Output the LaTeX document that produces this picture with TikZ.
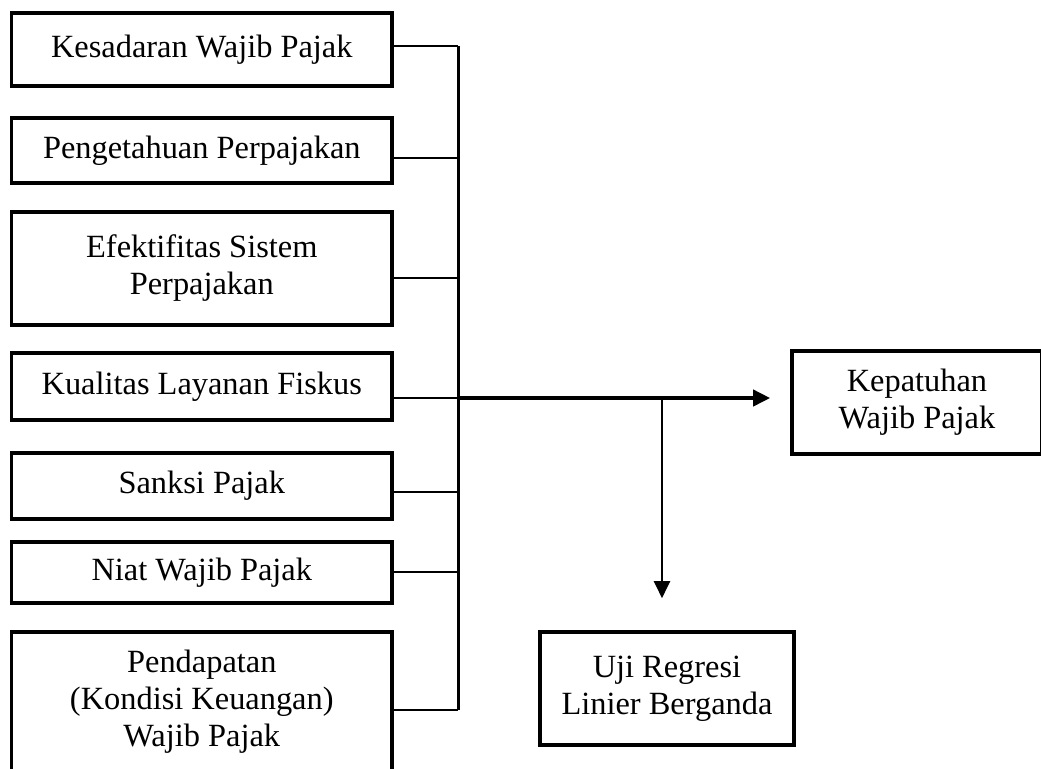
\documentclass[tikz,border=0pt]{standalone}
\usepackage{fontspec}
\setmainfont{Liberation Serif}
\usetikzlibrary{arrows.meta,positioning,calc}

\begin{document}
\begin{tikzpicture}[x=0.5pt,y=-0.5pt,
  kotak/.style={draw,line width=1.8pt,align=center,inner sep=0pt,font=\fontsize{16.2}{18.5}\selectfont},
  kiri/.style={kotak,minimum width=190.2pt},
  garis/.style={line width=0.65pt},
  bus/.style={line width=1.5pt},
  panah/.style={line width=1.9pt,-{Triangle[length=8.5pt,width=8pt]}}]
\useasboundingbox (0,0) rectangle (1041,768);
\clip (0,0) rectangle (1041,768);
\node[kiri,minimum height=36.5pt] (kesadaran) at (201.8,49.5) {Kesadaran Wajib Pajak};
\node[kiri,minimum height=32.5pt] (pengetahuan) at (201.8,150.5) {Pengetahuan Perpajakan};
\node[kiri,minimum height=56.5pt] (efektifitas) at (201.8,268.5) {Efektifitas Sistem\\Perpajakan};
\node[kiri,minimum height=33.5pt] (kualitas) at (201.8,386.5) {Kualitas Layanan Fiskus};
\node[kiri,minimum height=33pt] (sanksi) at (201.8,486) {Sanksi Pajak};
\node[kiri,minimum height=30.5pt] (niat) at (201.8,572.5) {Niat Wajib Pajak};
\node[kiri,minimum height=69.5pt] (pendapatan) at (201.8,701.5) {Pendapatan\\(Kondisi Keuangan)\\Wajib Pajak};
\node[kotak,minimum width=125pt,minimum height=51.5pt] (kepatuhan) at (917,402.5) {Kepatuhan\\Wajib Pajak};
\node[kotak,minimum width=127pt,minimum height=56.5pt] (uji) at (667,688.5) {Uji Regresi\\Linier Berganda};

\coordinate (t1) at (458,46);
\coordinate (t2) at (458,158);
\coordinate (t3) at (458,278);
\coordinate (t4) at (458,398);
\coordinate (t5) at (458,492);
\coordinate (t6) at (458,572);
\coordinate (t7) at (458,710);
\coordinate (cabang) at (662,398);

\foreach \n/\t in {kesadaran/t1,pengetahuan/t2,efektifitas/t3,kualitas/t4,sanksi/t5,niat/t6,pendapatan/t7}
  \draw[garis] (\t -| \n.east) -- (\t);
\draw[bus] (t1) -- (t7);
\draw[panah,shorten >=10pt] (t4) -- (t4 -| kepatuhan.west);
\draw[panah,line width=1pt,shorten >=16pt] (cabang) -- (cabang |- uji.north);
\end{tikzpicture}
\end{document}
